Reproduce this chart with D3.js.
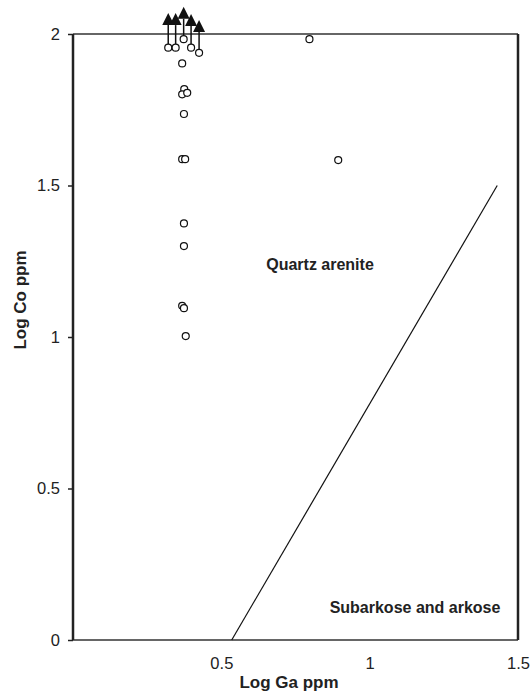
<!DOCTYPE html>
<html>
<head>
<meta charset="utf-8">
<script src="https://cdn.jsdelivr.net/npm/d3@7"></script>
<style>
  body { margin: 0; background: #fff; }
  text { font-family: "Liberation Sans", Arial, sans-serif; fill: #222; }
</style>
</head>
<body>
<div id="chart"></div>
<script>
// samples, log Ga vs log Co
var gaLog = [0.321, 0.346, 0.373, 0.398, 0.425, 0.368, 0.375, 0.368, 0.385, 0.374,
             0.368, 0.378, 0.374, 0.374, 0.368, 0.374, 0.380, 0.797, 0.894];
var coLog = [1.955, 1.955, 1.983, 1.955, 1.938, 1.903, 1.818, 1.801, 1.806, 1.736,
             1.587, 1.587, 1.375, 1.300, 1.103, 1.095, 1.003, 1.983, 1.584];
// first five samples are minimum values (arrow up), arrow tip value
var arrowTip = [2.069, 2.069, 2.090, 2.066, 2.046];

// boundary line quartz arenite / subarkose
var lineGa = [0.535, 1.43];
var lineCo = [0, 1.5];

var xTicks = [0.5, 1, 1.5];
var yTicks = [0, 0.5, 1, 1.5, 2];

var W = 530, H = 695;
var margin = {left: 73, right: 12, top: 34, bottom: 55};
var width = W - margin.left - margin.right;
var height = H - margin.top - margin.bottom;

var svg = d3.select("#chart").append("svg")
    .attr("width", W)
    .attr("height", H);

var g = svg.append("g")
    .attr("transform", "translate(" + margin.left + "," + margin.top + ")");

var x = d3.scaleLinear().domain([0, 1.5]).range([0, width]);
var y = d3.scaleLinear().domain([0, 2]).range([height, 0]);

// frame
g.append("line").attr("x1", 0).attr("x2", width).attr("y1", 0).attr("y2", 0)
    .attr("stroke", "#333").attr("stroke-width", 1.5);
g.append("line").attr("x1", 0).attr("x2", width).attr("y1", height).attr("y2", height)
    .attr("stroke", "#333").attr("stroke-width", 1.5);
g.append("line").attr("x1", 0).attr("x2", 0).attr("y1", 0).attr("y2", height)
    .attr("stroke", "#222").attr("stroke-width", 2.5);
g.append("line").attr("x1", width).attr("x2", width).attr("y1", 0).attr("y2", height)
    .attr("stroke", "#222").attr("stroke-width", 2.5);

// y axis
var yAxis = g.append("g")
    .call(d3.axisLeft(y).tickValues(yTicks).tickSize(5).tickPadding(8)
        .tickFormat(d3.format("")));
yAxis.select(".domain").remove();
yAxis.selectAll(".tick line").attr("stroke", "#222").attr("stroke-width", 1.5);
yAxis.selectAll(".tick text")
    .style("font-size", "16.5px")
    .style("font-family", "Liberation Sans, Arial, sans-serif")
    .attr("fill", "#333");

// x axis labels (no tick marks)
var xAxis = g.append("g")
    .attr("transform", "translate(0," + height + ")")
    .call(d3.axisBottom(x).tickValues(xTicks).tickSize(0).tickPadding(17)
        .tickFormat(d3.format("")));
xAxis.select(".domain").remove();
xAxis.selectAll(".tick text")
    .style("font-size", "16.5px")
    .style("font-family", "Liberation Sans, Arial, sans-serif")
    .attr("fill", "#333");

// axis titles
svg.append("text")
    .attr("x", 289)
    .attr("y", 688)
    .attr("text-anchor", "middle")
    .style("font-size", "17px")
    .style("font-weight", "bold")
    .text("Log Ga ppm");

svg.append("text")
    .attr("transform", "translate(26,300) rotate(-90)")
    .attr("text-anchor", "middle")
    .style("font-size", "17px")
    .style("font-weight", "bold")
    .text("Log Co ppm");

// boundary
g.append("line")
    .attr("x1", x(lineGa[0])).attr("y1", y(lineCo[0]))
    .attr("x2", x(lineGa[1])).attr("y2", y(lineCo[1]))
    .attr("stroke", "#111").attr("stroke-width", 1.2);

// field names
g.append("text")
    .attr("x", 320 - margin.left)
    .attr("y", 270 - margin.top)
    .attr("text-anchor", "middle")
    .style("font-size", "16px")
    .style("font-weight", "bold")
    .text("Quartz arenite");

g.append("text")
    .attr("x", 415 - margin.left)
    .attr("y", 613 - margin.top)
    .attr("text-anchor", "middle")
    .style("font-size", "16px")
    .style("font-weight", "bold")
    .text("Subarkose and arkose");

var r = 3.5;

// arrows for minimum values
arrowTip.forEach(function (t, i) {
    var px = x(gaLog[i]);
    var tipY = y(t);
    var baseY = tipY + 12;
    g.append("line")
        .attr("x1", px).attr("x2", px)
        .attr("y1", y(coLog[i]) - r).attr("y2", baseY)
        .attr("stroke", "#111").attr("stroke-width", 1.5);
    g.append("path")
        .attr("d", "M" + px + "," + tipY + "L" + (px + 6) + "," + baseY + "L" + (px - 6) + "," + baseY + "Z")
        .attr("fill", "#111");
});

// samples
g.selectAll(".pt")
    .data(gaLog)
    .enter()
    .append("circle")
    .attr("class", "pt")
    .attr("cx", function (d) { return x(d); })
    .attr("cy", function (d, i) { return y(coLog[i]); })
    .attr("r", r)
    .attr("fill", "#fff")
    .attr("stroke", "#111")
    .attr("stroke-width", 1.2);
</script>
</body>
</html>
